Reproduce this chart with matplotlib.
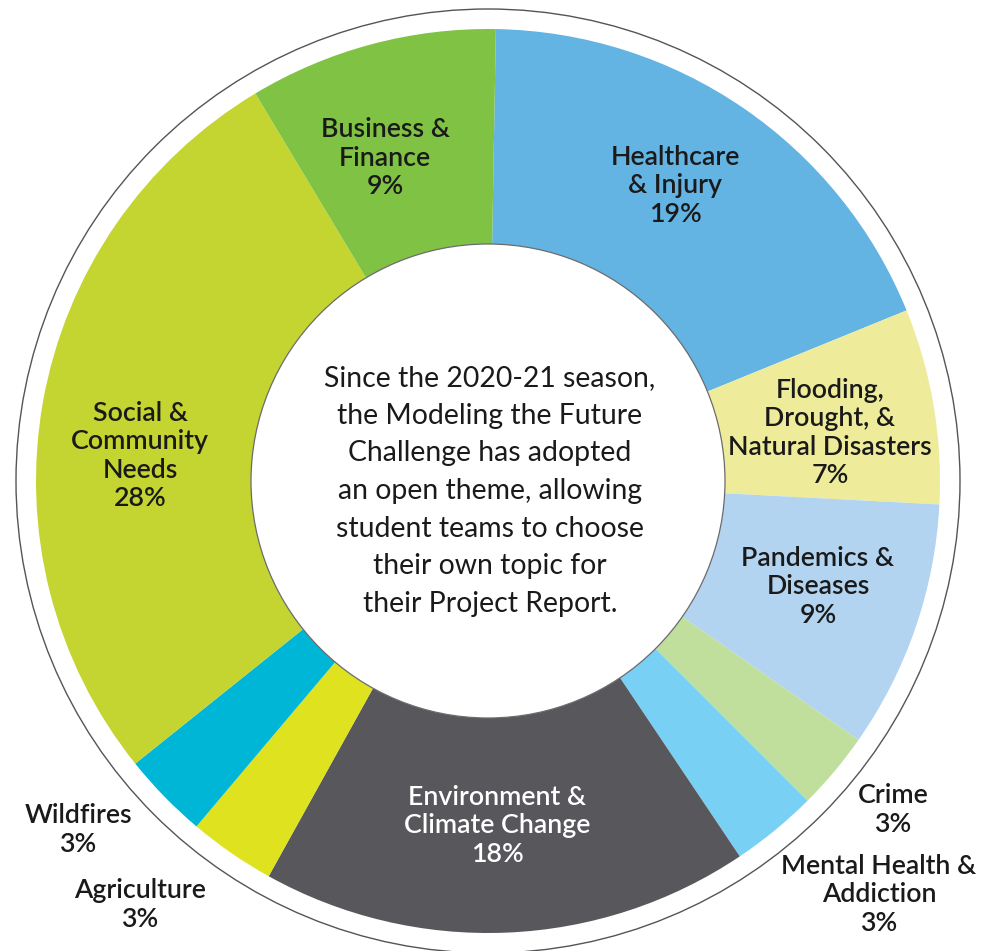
import matplotlib
matplotlib.use("Agg")
import matplotlib.pyplot as plt
from matplotlib.patches import Circle

# wedge shares, clockwise from the top
topics = [
    "Healthcare\n& Injury",
    "Flooding,\nDrought, &\nNatural Disasters",
    "Pandemics &\nDiseases",
    "Crime",
    "Mental Health &\nAddiction",
    "Environment &\nClimate Change",
    "Agriculture",
    "Wildfires",
    "Social &\nCommunity\nNeeds",
    "Business &\nFinance",
]
shares = [18.6, 7.0, 8.9, 2.8, 3.1, 17.5, 3.1, 3.1, 27.2, 8.9]
pct_labels = ["19%", "7%", "9%", "3%", "3%", "18%", "3%", "3%", "28%", "9%"]
colors = ["#63B3E3", "#EEEC9B", "#B2D4F0", "#C0DE9C", "#78D0F5",
          "#58575C", "#DFE21E", "#00B6D6", "#C4D431", "#80C243"]

center_note = ("Since the 2020-21 season,\nthe Modeling the Future\n"
               "Challenge has adopted\nan open theme, allowing\n"
               "student teams to choose\ntheir own topic for\n"
               "their Project Report.")

W, H = 997, 951
CX, CY = 488, H - 481
R_OUT, R_IN, R_RING = 452, 237, 472

# label anchor points in image pixels (x, y from top)
label_pos = [(675, 186), (830, 433), (818, 587), (893, 810), (879, 895),
             (497, 826), (140, 905), (78, 830), (140, 456), (385, 158)]
label_color = ["#1a1a1a"] * 10
label_color[5] = "white"

plt.rcParams["font.family"] = ["Lato", "DejaVu Sans"]

fig = plt.figure(figsize=(W / 100, H / 100), dpi=100)
ax = fig.add_axes([0, 0, 1, 1])

ax.pie(shares, colors=colors, startangle=89, counterclock=False,
       radius=R_OUT, center=(CX, CY),
       wedgeprops=dict(width=R_OUT - R_IN, linewidth=0))

ax.add_patch(Circle((CX, CY), R_IN, facecolor="white", edgecolor="#6b6b6b", lw=0.9, zorder=3))
ax.add_patch(Circle((CX, CY), R_RING, fill=False, edgecolor="#555555", lw=1.0, zorder=3))

for name, pct, (px, py), c in zip(topics, pct_labels, label_pos, label_color):
    ax.text(px, H - py, f"{name}\n{pct}", ha="center", va="center",
            fontsize=19.3, fontweight="semibold", color=c,
            linespacing=1.18, zorder=4)

ax.text(CX + 2, H - 491, center_note, ha="center", va="center",
        fontsize=20.4, color="#1a1a1a", linespacing=1.55, zorder=4)

ax.set_xlim(0, W)
ax.set_ylim(0, H)
ax.set_aspect("equal")
ax.axis("off")

fig.savefig("out.png", dpi=100, facecolor="white")
